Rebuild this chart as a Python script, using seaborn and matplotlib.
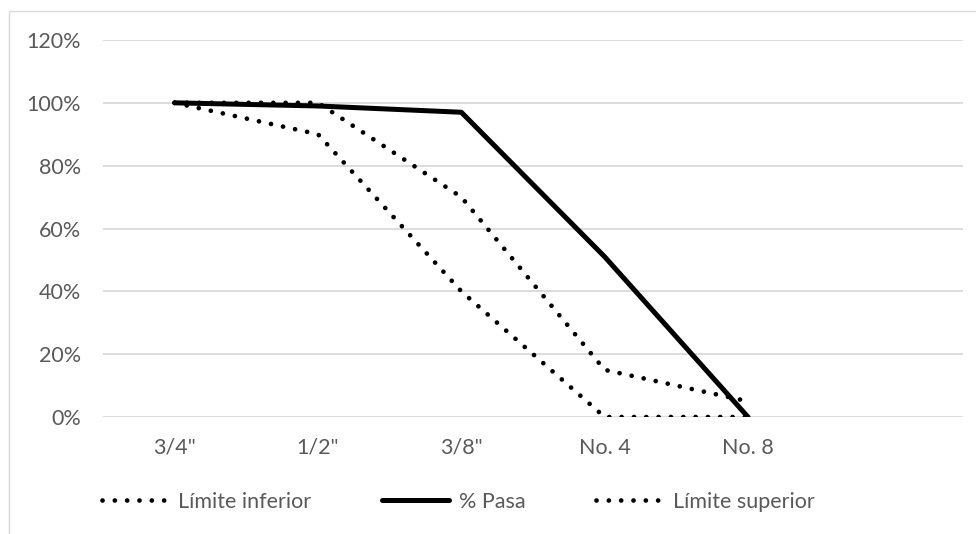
import matplotlib
matplotlib.use("Agg")
import matplotlib.pyplot as plt
import seaborn as sns
import pandas as pd
from matplotlib.patches import Rectangle
from matplotlib.ticker import PercentFormatter

categories = ['3/4"', '1/2"', '3/8"', 'No. 4', 'No. 8']
limite_inferior = [1.00, 0.90, 0.40, 0.00, 0.00]
pasa = [1.00, 0.99, 0.97, 0.51, 0.00]
limite_superior = [1.00, 1.00, 0.70, 0.15, 0.05]
y_ticks = [0, 0.2, 0.4, 0.6, 0.8, 1.0, 1.2]

sns.set_theme(style="white")
plt.rcParams['font.family'] = ['Lato', 'DejaVu Sans']

text_color = '#595959'
FS = 15.5
fig = plt.figure(figsize=(9.76, 5.34), dpi=100)
ax = fig.add_axes([103/976, 1-417/534, (963-103)/976, (417-40)/534])

df = pd.DataFrame({
    'x': categories * 3,
    'y': limite_inferior + pasa + limite_superior,
    'serie': ['Límite inferior'] * 5 + ['% Pasa'] * 5 + ['Límite superior'] * 5,
})

dot = dict(ls=(0, (0.01, 2.6)), lw=3.4, dash_capstyle='round')
styles = {
    'Límite inferior': dot,
    '% Pasa': dict(ls='-', lw=3.6, solid_capstyle='round'),
    'Límite superior': dot,
}
for name in ['Límite inferior', '% Pasa', 'Límite superior']:
    sub = df[df['serie'] == name]
    sns.lineplot(data=sub, x='x', y='y', ax=ax, color='black', label=name,
                 sort=False, **styles[name])

ax.set_xlim(-0.5, 5.5)
ax.set_ylim(0, 1.2)
ax.set_yticks(y_ticks)
ax.yaxis.set_major_formatter(PercentFormatter(1.0, decimals=0))
ax.grid(axis='y', color='#d9d9d9', lw=1.3)
ax.grid(axis='x', visible=False)
for s in ax.spines.values():
    s.set_visible(False)
ax.set_xlabel('')
ax.set_ylabel('')
ax.tick_params(axis='y', colors=text_color, labelsize=FS, pad=16, length=0)
ax.tick_params(axis='x', colors=text_color, labelsize=FS, pad=15, length=0)
ax.set_axisbelow(True)

handles, labels = ax.get_legend_handles_labels()
leg = ax.legend(handles, labels, ncol=3, frameon=False, loc='center',
                bbox_to_anchor=(458/976, 1 - 502/534), bbox_transform=fig.transFigure,
                fontsize=FS, handlelength=3.1, columnspacing=3.3, handletextpad=0.45)
for t in leg.get_texts():
    t.set_color(text_color)

fig.patches.append(Rectangle((9/976, -0.1), 1.2, 1.1 - 11/534, transform=fig.transFigure,
                             fill=False, edgecolor='#d9d9d9', lw=1.0))

fig.savefig('out.png', dpi=100)
